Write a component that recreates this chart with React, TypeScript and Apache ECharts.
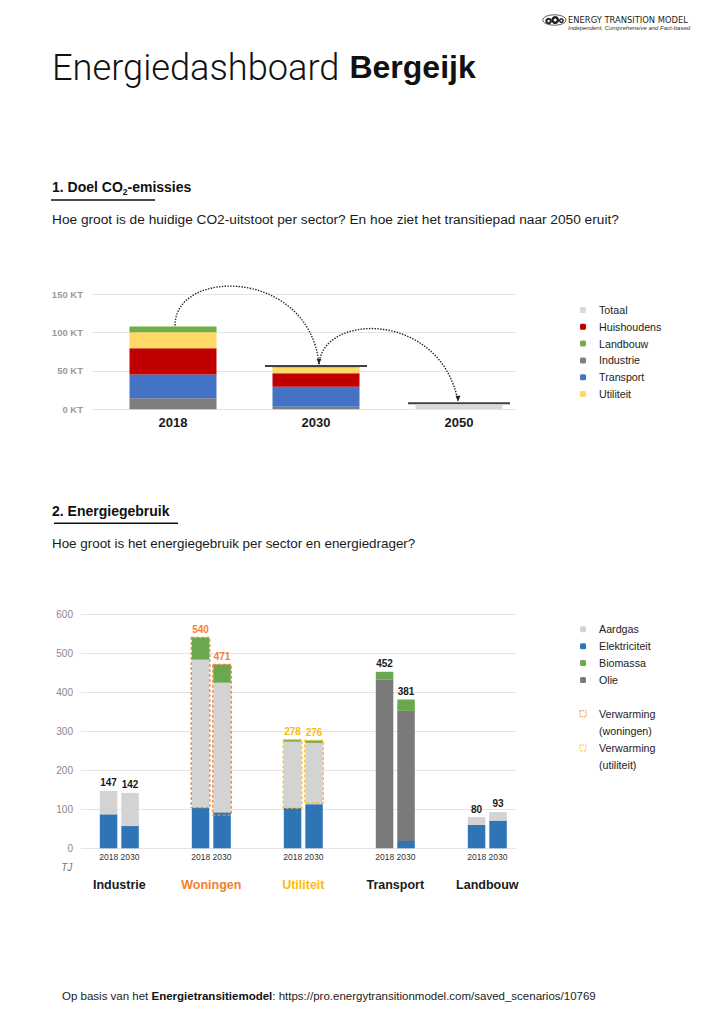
import React, { useEffect, useRef } from 'react';
import * as echarts from 'echarts';

// ---------- DATA ----------
const co2Years = ['2018', '2030', '2050'];
const co2Industrie = [14.3, 3.4, 0];
const co2Transport = [31, 26, 0];
const co2Huishoudens = [34, 17.4, 0];
const co2Utiliteit = [21, 7.7, 0];
const co2Landbouw = [7.4, 0.4, 0];
const co2Totaal = [0, 0, 5.6];
const co2Doel = [null, 56.2, 7.8];
const co2Max = 150;
const co2Interval = 50;

const sectors = ['Industrie', 'Woningen', 'Utiliteit', 'Transport', 'Landbouw'];
const energyYears = ['2018', '2030'];
const elek2018 = [87, 104, 104, 0, 60];
const olie2018 = [0, 0, 0, 432, 0];
const gas2018 = [60, 379, 169, 0, 20];
const bio2018 = [0, 57, 5, 20, 0];
const elek2030 = [57, 92, 113, 19, 71];
const olie2030 = [0, 0, 0, 333, 0];
const gas2030 = [85, 332, 157, 0, 22];
const bio2030 = [0, 47, 6, 29, 0];
const heatLow2018 = [0, 104, 103, 0, 0];
const heatHigh2018 = [0, 540, 278, 0, 0];
const heatLow2030 = [0, 85, 116, 0, 0];
const heatHigh2030 = [0, 471, 276, 0, 0];
const energyMax = 600;
const energyInterval = 100;

// ---------- STYLE ----------
const FONT = '"Liberation Sans", Arial, Helvetica, sans-serif';
const sectorColors = ['#1a1a1a', '#f4812f', '#f9bb10', '#1a1a1a', '#1a1a1a'];
const boxColors = ['#000', '#f0883e', '#f9bf1a', '#000', '#000'];
const BAR_W = 17.5;
const BAR_GAP = 4;

function txt(id: string, x: number, y: number, text: string, s: any = {}) {
  return {
    type: 'text',
    id,
    x,
    y,
    z: 50,
    style: {
      text,
      fontFamily: FONT,
      fontSize: 12,
      fill: '#1a1a1a',
      align: 'left',
      textAlign: 'left',
      verticalAlign: 'middle',
      textVerticalAlign: 'middle',
      ...s,
    },
  };
}

export default function App() {
  const ref = useRef<HTMLDivElement>(null);

  useEffect(() => {
    if (!ref.current) return;
    const chart = echarts.init(ref.current, undefined, { renderer: 'svg' });

    const co2Stack = [
      ['Industrie', co2Industrie, '#7f7f7f'],
      ['Transport', co2Transport, '#4472c4'],
      ['Huishoudens', co2Huishoudens, '#c00000'],
      ['Utiliteit', co2Utiliteit, '#ffd966'],
      ['Landbouw', co2Landbouw, '#70ad47'],
      ['Totaal', co2Totaal, '#d9d9d9'],
    ] as const;

    const co2Series: any[] = co2Stack.map(([name, data, color]) => ({
      type: 'bar',
      name,
      data,
      stack: 'co2',
      xAxisIndex: 1,
      yAxisIndex: 1,
      barWidth: 87,
      itemStyle: { color },
      emphasis: { disabled: true },
    }));
    co2Series.push({
      type: 'scatter',
      name: 'Doel',
      data: co2Doel.map((v) => (v == null ? '-' : v)),
      xAxisIndex: 1,
      yAxisIndex: 1,
      symbol: 'rect',
      symbolSize: [102, 2],
      itemStyle: { color: '#111' },
      z: 5,
      silent: true,
    });

    const carriers = [
      ['Elektriciteit', '#2e75b6'],
      ['Olie', '#7a7a7a'],
      ['Aardgas', '#d3d3d3'],
      ['Biomassa', '#6aa84f'],
    ];
    const perYear = [
      [elek2018, olie2018, gas2018, bio2018],
      [elek2030, olie2030, gas2030, bio2030],
    ];
    const heat = [
      [heatLow2018, heatHigh2018],
      [heatLow2030, heatHigh2030],
    ];
    const energySeries: any[] = [];
    perYear.forEach((arrs, yi) => {
      carriers.forEach(([name, color], ci) => {
        energySeries.push({
          type: 'bar',
          name,
          data: arrs[ci],
          stack: 'y' + energyYears[yi],
          xAxisIndex: 3,
          yAxisIndex: 3,
          barWidth: BAR_W,
          barGap: (BAR_GAP / BAR_W) * 100 + '%',
          itemStyle: { color },
          emphasis: { disabled: true },
        });
      });
    });

    const labelData: any[] = [];
    perYear.forEach((arrs, yi) => {
      sectors.forEach((_, si) => {
        const total = arrs.reduce((s, a) => s + a[si], 0);
        labelData.push([si, yi, total, heat[yi][0][si], heat[yi][1][si]]);
      });
    });

    energySeries.push({
      type: 'custom',
      name: 'labels',
      xAxisIndex: 3,
      yAxisIndex: 3,
      data: labelData,
      encode: { x: 0, y: 2 },
      clip: false,
      z: 10,
      silent: true,
      renderItem: (params: any, api: any) => {
        const cat = api.value(0);
        const yr = api.value(1);
        const total = api.value(2);
        const low = api.value(3);
        const high = api.value(4);
        const c = api.coord([cat, 0]);
        const x = c[0] + (yr === 0 ? -1 : 1) * (BAR_W + BAR_GAP) / 2;
        const topVal = high > 0 ? high : total;
        const yTop = api.coord([cat, topVal])[1];
        const children: any[] = [];
        if (high > 0) {
          const yLow = api.coord([cat, low])[1];
          children.push({
            type: 'rect',
            shape: { x: x - BAR_W / 2 - 0.5, y: yTop, width: BAR_W + 1, height: yLow - yTop },
            style: { fill: 'none', stroke: boxColors[cat], lineWidth: 1.3, lineDash: [3, 2] },
          });
        }
        children.push({
          type: 'text',
          style: {
            x,
            y: yTop - 3,
            text: String(total),
            fill: sectorColors[cat],
            fontFamily: FONT,
            fontSize: 10,
            fontWeight: 'bold',
            align: 'center',
            textAlign: 'center',
            verticalAlign: 'bottom',
            textVerticalAlign: 'bottom',
          },
        });
        return { type: 'group', children };
      },
    });

    const rich: any = {
      y: { fontSize: 8.5, color: '#333', lineHeight: 12, fontFamily: FONT },
    };
    sectors.forEach((_, i) => {
      rich['s' + i] = {
        fontSize: 12.5,
        fontWeight: 'bold',
        color: sectorColors[i],
        lineHeight: 44,
        fontFamily: FONT,
      };
    });

    const staticEls: any[] = [
      // logo
      { type: 'ellipse', id: 'lg0', shape: { cx: 554.4, cy: 20, rx: 11.6, ry: 5.2 }, style: { fill: 'none', stroke: '#333', lineWidth: 0.8 } },
      { type: 'ring', id: 'lg1', shape: { cx: 548.6, cy: 21, r: 3.3, r0: 1.2 }, style: { fill: '#222' } },
      { type: 'ring', id: 'lg2', shape: { cx: 555.2, cy: 20, r: 3.9, r0: 1.5 }, style: { fill: '#222' } },
      { type: 'ring', id: 'lg3', shape: { cx: 561.4, cy: 20.6, r: 2.5, r0: 0.9 }, style: { fill: '#222' } },
      txt('lgt', 568, 19.5, 'ENERGY TRANSITION MODEL', {
        fontFamily: '"Liberation Sans Narrow", "DejaVu Sans Condensed", "Liberation Sans", sans-serif',
        fontSize: 9.3,
        fill: '#222',
      }),
      txt('lgs', 568, 28.2, 'Independent, Comprehensive and Fact-based', {
        fontSize: 6,
        fontStyle: 'italic',
        fill: '#333',
      }),
      // title
      txt('title', 52, 67, '{l|Energiedashboard}{g| }{b|Bergeijk}', {
        rich: {
          l: { fontFamily: 'Roboto, "Liberation Sans", sans-serif', fontWeight: 300, fontSize: 36.2, fill: '#111' },
          g: { fontFamily: FONT, fontSize: 36, fill: '#111' },
          b: { fontFamily: FONT, fontWeight: 'bold', fontSize: 32, fill: '#111' },
        },
      }),
      // section 1
      txt('h1', 52, 187, '{h|1. Doel CO}{s|2}{h|-emissies}', {
        rich: {
          h: { fontFamily: FONT, fontWeight: 'bold', fontSize: 14, lineHeight: 18, fill: '#111' },
          s: { fontFamily: FONT, fontWeight: 'bold', fontSize: 8.5, lineHeight: 10, verticalAlign: 'bottom', fill: '#111' },
        },
      }),
      { type: 'rect', id: 'u1', shape: { x: 51, y: 199.3, width: 104, height: 1.5 }, style: { fill: '#111' } },
      txt('st1', 52, 219, 'Hoe groot is de huidige CO2-uitstoot per sector? En hoe ziet het transitiepad naar 2050 eruit?', {
        fontSize: 13.7,
        fill: '#1a1a1a',
      }),
      // section 2
      txt('h2', 52, 511, '2. Energiegebruik', { fontWeight: 'bold', fontSize: 14, fill: '#111' }),
      { type: 'rect', id: 'u2', shape: { x: 54, y: 522.6, width: 124, height: 1.5 }, style: { fill: '#111' } },
      txt('st2', 52, 543, 'Hoe groot is het energiegebruik per sector en energiedrager?', {
        fontSize: 13.4,
        fill: '#1a1a1a',
      }),
      // heating legend
      { type: 'rect', id: 'hl1', shape: { x: 580, y: 710.7, width: 6, height: 6 }, style: { fill: 'none', stroke: boxColors[1], lineWidth: 1, lineDash: [1.5, 1] } },
      txt('hl1a', 599, 713.7, 'Verwarming', { fontSize: 10.7, fill: '#222' }),
      txt('hl1b', 599, 731, '(woningen)', { fontSize: 10.7, fill: '#222' }),
      { type: 'rect', id: 'hl2', shape: { x: 580, y: 745, width: 6, height: 6 }, style: { fill: 'none', stroke: boxColors[2], lineWidth: 1, lineDash: [1.5, 1] } },
      txt('hl2a', 599, 748, 'Verwarming', { fontSize: 10.7, fill: '#222' }),
      txt('hl2b', 599, 765, '(utiliteit)', { fontSize: 10.7, fill: '#222' }),
      // unit
      txt('tj', 66.7, 867, 'TJ', { fontSize: 10, fontStyle: 'italic', fill: '#777', align: 'center', textAlign: 'center' }),
      // footer
      txt('ft', 62, 996, '{n|Op basis van het }{b|Energietransitiemodel}{n|: https://pro.energytransitionmodel.com/saved_scenarios/10769}', {
        rich: {
          n: { fontFamily: FONT, fontSize: 11.5, fill: '#222' },
          b: { fontFamily: FONT, fontSize: 11.5, fontWeight: 'bold', fill: '#111' },
        },
      }),
    ];

    const legendBase = {
      orient: 'vertical',
      left: 580,
      itemWidth: 6,
      itemHeight: 6,
      icon: 'roundRect',
      padding: 0,
      selectedMode: false,
      textStyle: { fontSize: 10.7, color: '#222', lineHeight: 12, padding: [0, 0, 0, 8], fontFamily: FONT },
    };

    const option: any = {
      animation: false,
      backgroundColor: '#ffffff',
      textStyle: { fontFamily: FONT },
      grid: [
        { left: 92, right: 193, top: 294, bottom: 614.7 },
        { left: 101.5, right: 178.5, top: 294, bottom: 614.7 },
        { left: 81, right: 193, top: 614, bottom: 175.7 },
        { left: 73.3, right: 175.7, top: 614, bottom: 175.7 },
      ],
      xAxis: [
        { gridIndex: 0, type: 'value', show: false, min: 0, max: 1 },
        {
          gridIndex: 1,
          type: 'category',
          data: co2Years,
          axisLine: { show: false },
          axisTick: { show: false },
          axisLabel: { margin: 7, fontSize: 13, fontWeight: 'bold', color: '#1a1a1a' },
        },
        { gridIndex: 2, type: 'value', show: false, min: 0, max: 1 },
        {
          gridIndex: 3,
          type: 'category',
          data: sectors,
          axisLine: { show: false },
          axisTick: { show: false },
          axisLabel: {
            margin: 3,
            interval: 0,
            formatter: (v: string, i: number) => `{y|${energyYears.join(' ')}}\n{s${i}|${v}}`,
            rich,
          },
        },
      ],
      yAxis: [
        {
          gridIndex: 0,
          type: 'value',
          min: 0,
          max: co2Max,
          interval: co2Interval,
          axisLine: { show: false },
          axisTick: { show: false },
          splitLine: { lineStyle: { color: '#e4e4e4', width: 1 } },
          axisLabel: { formatter: '{value} KT', margin: 9, fontSize: 9.5, fontWeight: 'bold', color: '#9a9a9a' },
        },
        { gridIndex: 1, type: 'value', min: 0, max: co2Max, show: false },
        {
          gridIndex: 2,
          type: 'value',
          min: 0,
          max: energyMax,
          interval: energyInterval,
          axisLine: { show: false },
          axisTick: { show: false },
          splitLine: { lineStyle: { color: '#e4e4e4', width: 1 } },
          axisLabel: { margin: 8, fontSize: 10, color: '#888' },
        },
        { gridIndex: 3, type: 'value', min: 0, max: energyMax, show: false },
      ],
      legend: [
        { ...legendBase, top: 304, itemGap: 4.8, data: ['Totaal', 'Huishoudens', 'Landbouw', 'Industrie', 'Transport', 'Utiliteit'] },
        { ...legendBase, top: 623.3, itemGap: 4.9, data: ['Aardgas', 'Elektriciteit', 'Biomassa', 'Olie'] },
      ],
      series: [...co2Series, ...energySeries],
      graphic: { elements: staticEls },
    };

    chart.setOption(option);

    // transition arrows computed from the chart's own scales
    const total2018 = co2Stack.slice(0, 5).reduce((s, [, d]) => s + (d as number[])[0], 0);
    const p0 = chart.convertToPixel({ gridIndex: 1 }, [0, total2018]) as number[];
    const p1 = chart.convertToPixel({ gridIndex: 1 }, [1, co2Doel[1] as number]) as number[];
    const p2 = chart.convertToPixel({ gridIndex: 1 }, [2, co2Doel[2] as number]) as number[];
    const s1 = [p0[0] + 2, p0[1] - 1];
    const e1 = [p1[0] + 3, p1[1] - 2];
    const e2 = [p2[0] - 1, p2[1] - 2];
    const dotted = { fill: 'none', stroke: '#222', lineWidth: 1.4, lineDash: [1.4, 1.4] };
    const arrowEls: any[] = [
      {
        type: 'bezierCurve',
        id: 'arc1',
        shape: { x1: s1[0], y1: s1[1], cpx1: s1[0], cpy1: s1[1] - 58, cpx2: e1[0] - 10, cpy2: e1[1] - 96, x2: e1[0], y2: e1[1] },
        style: dotted,
        z: 40,
      },
      {
        type: 'bezierCurve',
        id: 'arc2',
        shape: { x1: e1[0], y1: e1[1], cpx1: e1[0] + 4, cpy1: e1[1] - 52, cpx2: e2[0] - 17, cpy2: e2[1] - 90, x2: e2[0], y2: e2[1] },
        style: dotted,
        z: 40,
      },
      {
        type: 'polygon',
        id: 'ah1',
        shape: { points: [[e1[0] - 2.3, e1[1] - 5], [e1[0] + 2.3, e1[1] - 5], [e1[0], e1[1]]] },
        style: { fill: '#222' },
        z: 40,
      },
      {
        type: 'polygon',
        id: 'ah2',
        shape: { points: [[e2[0] - 2.5, e2[1] - 5.5], [e2[0] + 2.5, e2[1] - 5.5], [e2[0], e2[1]]] },
        style: { fill: '#222' },
        z: 40,
      },
    ];
    chart.setOption({ graphic: { elements: [...staticEls, ...arrowEls] } });

    return () => {
      chart.dispose();
    };
  }, []);

  return (
    <div
      ref={ref}
      style={{ position: 'absolute', left: 0, top: 0, width: 709, height: 1024, background: '#fff' }}
    />
  );
}
